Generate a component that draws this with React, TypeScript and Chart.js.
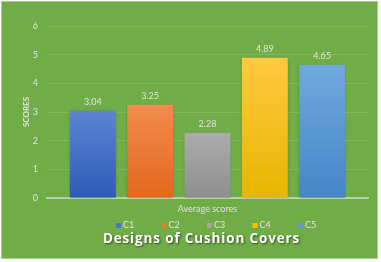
import React, { useEffect, useRef } from "react";
import { Chart, registerables } from "chart.js";

Chart.register(...registerables);

const categories = ["Average scores"];
const seriesNames = ["C1", "C2", "C3", "C4", "C5"];
const seriesValues = [3.04, 3.25, 2.28, 4.89, 4.65];
const yTicks = [0, 1, 2, 3, 4, 5, 6];
const chartTitle = "Designs of Cushion Covers";
const yAxisTitle = "SCORES";

const topColors = ["#5C84D2", "#F18B4E", "#ACACAC", "#FFC940", "#70A9DD"];
const bottomColors = ["#2E5BB8", "#E3681B", "#8E8E8E", "#E6B600", "#4486C8"];
const legendColors = ["#4472C4", "#ED7D31", "#A5A5A5", "#FFC000", "#5B9BD5"];

const TEXT = "#E2E2E2";
const FONT = "Lato, 'Open Sans', sans-serif";

const bgPlugin = {
  id: "bgFrame",
  beforeDraw(chart: any) {
    const { ctx, width, height } = chart;
    ctx.save();
    ctx.fillStyle = "#ffffff";
    ctx.fillRect(0, 0, width, height);
    ctx.fillStyle = "#A9CF8E";
    ctx.fillRect(1, 1, 377, 258);
    ctx.fillStyle = "#70AD47";
    ctx.fillRect(2, 2, 375, 256);
    ctx.restore();
  },
};

const shadowPlugin = {
  id: "barShadow",
  beforeDatasetsDraw(chart: any) {
    const ctx = chart.ctx;
    ctx.save();
    ctx.shadowColor = "rgba(0,0,0,0.28)";
    ctx.shadowBlur = 3;
    ctx.shadowOffsetX = 0;
    ctx.shadowOffsetY = 0;
  },
  afterDatasetsDraw(chart: any) {
    chart.ctx.restore();
  },
};

const labelPlugin = {
  id: "valueLabels",
  afterDraw(chart: any) {
    const ctx = chart.ctx;
    const area = chart.chartArea;
    ctx.save();
    ctx.font = `9px ${FONT}`;
    ctx.fillStyle = TEXT;
    ctx.textAlign = "center";
    ctx.textBaseline = "middle";
    chart.data.datasets.forEach((ds: any, i: number) => {
      const meta = chart.getDatasetMeta(i);
      meta.data.forEach((el: any, j: number) => {
        ctx.fillText(Number(ds.data[j]).toFixed(2), el.x, el.y - 9);
      });
    });
    // legend: one entry under each bar slot
    const legendY = area.bottom + 27.5;
    const cx = (area.left + area.right) / 2;
    const step = 45.5;
    ctx.textAlign = "left";
    seriesNames.forEach((n, i) => {
      const x = cx + (i - 2) * step - 0.5;
      ctx.fillStyle = legendColors[i];
      ctx.fillRect(x, legendY - 2.5, 5, 5);
      ctx.fillStyle = TEXT;
      ctx.fillText(n, x + 7, legendY);
    });
    // title
    ctx.textAlign = "center";
    ctx.font = `bold 13.5px 'Open Sans', sans-serif`;
    (ctx as any).letterSpacing = "0.85px";
    ctx.shadowColor = "rgba(0,0,0,0.55)";
    ctx.shadowBlur = 2;
    ctx.shadowOffsetX = 1;
    ctx.shadowOffsetY = 1;
    ctx.fillStyle = "#FFFFFF";
    ctx.fillText(chartTitle, cx - 6, legendY + 13.5);
    ctx.restore();
  },
};

export default function App() {
  const ref = useRef<HTMLCanvasElement>(null);
  useEffect(() => {
    const canvas = ref.current!;
    const chart = new Chart(canvas, {
      type: "bar",
      data: {
        labels: categories,
        datasets: seriesNames.map((name, i) => ({
          label: name,
          data: [seriesValues[i]],
          backgroundColor: (c: any) => {
            const ch = c.chart;
            const ys = ch.scales && ch.scales.y;
            if (!ys || !ch.chartArea) return legendColors[i];
            const top = ys.getPixelForValue(seriesValues[i]);
            const bot = ys.getPixelForValue(0);
            const g = ch.ctx.createLinearGradient(0, top, 0, bot);
            g.addColorStop(0, topColors[i]);
            g.addColorStop(1, bottomColors[i]);
            return g;
          },
          borderWidth: 0,
          categoryPercentage: 0.893,
          barPercentage: 0.8,
        })),
      },
      options: {
        responsive: false,
        animation: false,
        layout: { padding: { left: 22, right: 13, top: 26, bottom: 46 } },
        plugins: {
          legend: { display: false },
          title: { display: false },
          tooltip: { enabled: false },
        },
        scales: {
          x: {
            grid: { display: false, drawTicks: false },
            border: { display: true, color: "#B7D3A5", width: 2 },
            ticks: { color: TEXT, font: { size: 9, family: FONT }, padding: 6, maxRotation: 0 },
            afterFit: (s: any) => {
              s.height = 18;
            },
          },
          y: {
            min: 0,
            max: 6,
            afterBuildTicks: (s: any) => {
              s.ticks = yTicks.map((v) => ({ value: v }));
            },
            grid: { color: "rgba(255,255,255,0.12)", drawTicks: false },
            border: { display: false },
            ticks: { color: TEXT, font: { size: 9, family: FONT }, padding: 9 },
            title: {
              display: true,
              text: yAxisTitle,
              color: TEXT,
              font: { size: 8, weight: "bold", family: FONT },
              padding: { top: 0, bottom: 0 },
            },
            afterFit: (s: any) => {
              s.width = 25;
            },
          },
        },
      },
      plugins: [bgPlugin, shadowPlugin, labelPlugin],
    } as any);
    return () => chart.destroy();
  }, []);
  return (
    <div style={{ position: "fixed", left: 0, top: 0, width: 381, height: 262 }}>
      <canvas ref={ref} width={381} height={262} />
    </div>
  );
}
